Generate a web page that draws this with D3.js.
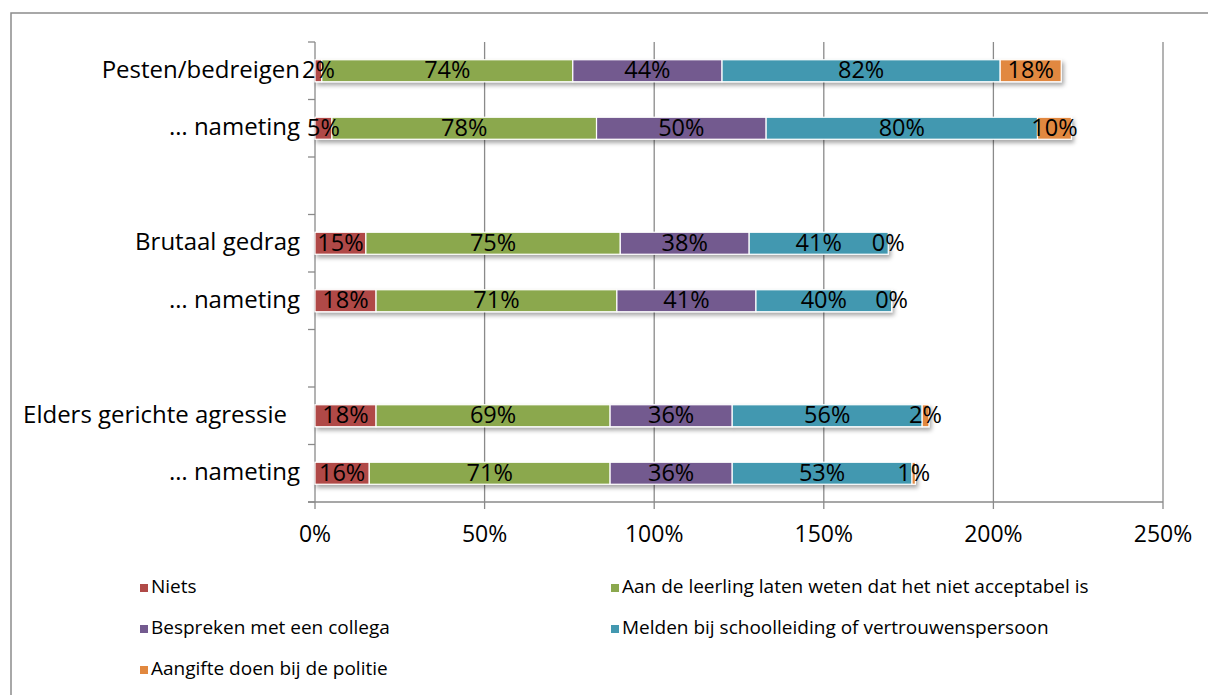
<!DOCTYPE html>
<html><head><meta charset="utf-8">
<script src="https://cdn.jsdelivr.net/npm/d3@7/dist/d3.min.js"></script>
<style>body{margin:0;background:#fff;} svg{display:block;font-family:"Open Sans",Lato,sans-serif;}</style>
</head><body>
<script>
const categories = ["Pesten/bedreigen", "… nameting", "", "Brutaal gedrag", "… nameting ", " ", "Elders gerichte agressie", "… nameting  "];
const seriesNames = ["Niets", "Aan de leerling laten weten dat het niet acceptabel is", "Bespreken met een collega", "Melden bij schoolleiding of vertrouwenspersoon", "Aangifte doen bij de politie"];
const niets      = [2, 5, null, 15, 18, null, 18, 16];
const aanLeerling= [74, 78, null, 75, 71, null, 69, 71];
const bespreken  = [44, 50, null, 38, 41, null, 36, 36];
const melden     = [82, 80, null, 41, 40, null, 56, 53];
const aangifte   = [18, 10, null, 0, 0, null, 2, 1];
const tickValues = [0, 50, 100, 150, 200, 250];
const colors = ["#B04A47", "#8BA84E", "#735A8F", "#4398B0", "#E1883F"];

const W = 1208, H = 695;
const FONT = "'Open Sans',Lato,sans-serif";
const svg = d3.select("body").append("svg").attr("width", W).attr("height", H);
const defs = svg.append("defs");
const f = defs.append("filter").attr("id","sh").attr("x","-5%").attr("y","-30%").attr("width","110%").attr("height","180%");
f.append("feDropShadow").attr("dx",2).attr("dy",3).attr("stdDeviation",2).attr("flood-color","#000").attr("flood-opacity",0.35);

// frame
svg.append("rect").attr("x",11).attr("y",13).attr("width",1210).attr("height",700)
  .attr("fill","none").attr("stroke","#8c8c8c").attr("stroke-width",1.5);

const x = d3.scaleLinear().domain([0,250]).range([315,1163]);
const y = d3.scaleBand().domain(categories).range([42,502]).paddingInner(0).paddingOuter(0);
const barH = 22;

// gridlines
svg.append("g").selectAll("line").data(tickValues.slice(1)).join("line")
  .attr("x1",d=>x(d)).attr("x2",d=>x(d)).attr("y1",42).attr("y2",502)
  .attr("stroke","#8a8a8a").attr("stroke-width",1.3);

// left axis
const yAxis = svg.append("g").attr("transform","translate(315,0)")
  .call(d3.axisLeft(y).tickSize(0).tickFormat(d=>d.trim()).tickPadding(15));
yAxis.select(".domain").remove();
yAxis.selectAll("text").attr("font-size",24).attr("fill","#000").attr("font-family",FONT)
  .attr("dy","0.3em")
  .attr("dx", d => d.startsWith("Elders") ? -13 : 0);
svg.append("line").attr("x1",315).attr("x2",315).attr("y1",42).attr("y2",502).attr("stroke","#8a8a8a").attr("stroke-width",1.3);
// boundary ticks
const bounds = d3.range(0, categories.length+1).map(i => 42 + i*y.step());
svg.append("g").selectAll("line").data(bounds).join("line")
  .attr("x1",308).attr("x2",315).attr("y1",d=>d).attr("y2",d=>d).attr("stroke","#8a8a8a").attr("stroke-width",1.3);
// bottom axis
svg.append("line").attr("x1",308).attr("x2",1163).attr("y1",502).attr("y2",502).attr("stroke","#8a8a8a").attr("stroke-width",1.3);
svg.append("g").selectAll("line").data(tickValues).join("line")
  .attr("x1",d=>x(d)).attr("x2",d=>x(d)).attr("y1",502).attr("y2",509).attr("stroke","#8a8a8a").attr("stroke-width",1.3);
svg.append("g").selectAll("text").data(tickValues).join("text")
  .attr("x",d=>x(d)).attr("y",536).attr("text-anchor","middle").attr("dominant-baseline","middle")
  .attr("font-size",23).text(d=>d+"%");

// bars
const seriesData = [niets, aanLeerling, bespreken, melden, aangifte];
const rows = categories.map((c,i)=>{
  let acc = 0;
  const segs = seriesData.map((s,k)=>{ const v = s[i]; const seg = {k, v, x0: acc, x1: acc + (v||0)}; acc += (v||0); return seg;});
  return {c, i, segs, has: niets[i] !== null};
}).filter(r=>r.has);

const gBars = svg.append("g");
rows.forEach(r=>{
  const yc = y(r.c) + y.bandwidth()/2;
  const g = gBars.append("g");
  g.append("g").attr("filter","url(#sh)").selectAll("rect").data(r.segs.filter(s=>s.v>0)).join("rect")
    .attr("x",s=>x(s.x0)).attr("width",s=>x(s.x1)-x(s.x0))
    .attr("y",yc-barH/2).attr("height",barH)
    .attr("fill",s=>colors[s.k]).attr("stroke","#fff").attr("stroke-width",1.2);
});
rows.forEach(r=>{
  const yc = y(r.c) + y.bandwidth()/2;
  gBars.append("g").selectAll("text").data(r.segs).join("text")
    .attr("x",s=>(x(s.x0)+x(s.x1))/2).attr("y",yc+1).attr("text-anchor","middle").attr("dominant-baseline","middle")
    .attr("font-size",23.5).attr("fill","#000").text(s=>s.v+"%");
});

// legend
const legendPos = [[140,588],[611,588],[140,629],[611,629],[140,670]];
const lg = svg.append("g");
seriesNames.forEach((n,k)=>{
  const [lx,ly] = legendPos[k];
  lg.append("rect").attr("x",lx).attr("y",ly-4).attr("width",8).attr("height",8).attr("fill",colors[k]);
  lg.append("text").attr("x",lx+11).attr("y",ly).attr("dominant-baseline","middle").attr("font-size",19).text(n);
});
</script>
</body></html>
